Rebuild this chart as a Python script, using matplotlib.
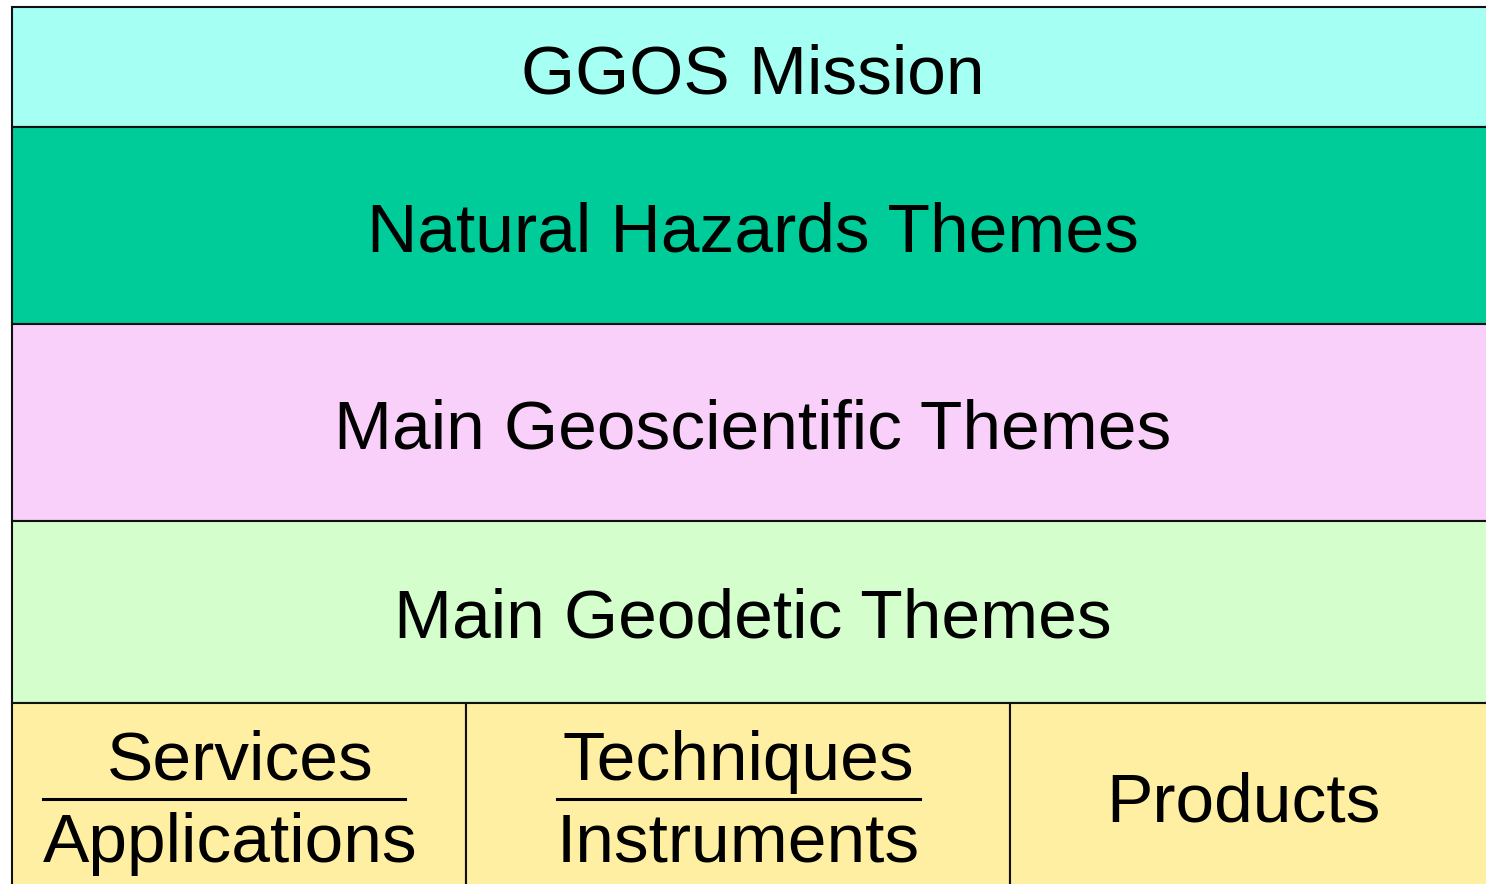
import matplotlib.pyplot as plt
from matplotlib.patches import Rectangle

# theme rows, top to bottom
row_labels = ['GGOS Mission', 'Natural Hazards Themes', 'Main Geoscientific Themes', 'Main Geodetic Themes']
row_colors = ['#A5FFF2', '#00CC99', '#F9D0F9', '#D4FFCC']
row_edges = [7, 127, 324, 521, 703]

# bottom row: three boxes
col_edges = [12, 466, 1010, 1494]
col_top = ['Services', 'Techniques', 'Products']
col_bottom = ['Applications', 'Instruments', None]
bottom_color = '#FFEFA2'

FONT = 'Liberation Sans'
FS = 50
X0, X1 = 12, 1494
CX = 753

fig = plt.figure(figsize=(14.86, 8.84), dpi=100)
ax = fig.add_axes([0, 0, 1, 1])
ax.set_xlim(0, 1486)
ax.set_ylim(884, 0)
ax.axis('off')

for i, (lab, col) in enumerate(zip(row_labels, row_colors)):
    y0, y1 = row_edges[i], row_edges[i + 1]
    ax.add_patch(Rectangle((X0, y0), X1 - X0, y1 - y0, facecolor=col,
                           edgecolor='#111111', linewidth=1.5))
    ax.text(CX, (y0 + y1) / 2 + 26, lab, ha='center', va='baseline',
            fontsize=FS, family=FONT)

yb = row_edges[-1]
for i in range(3):
    x0, x1 = col_edges[i], col_edges[i + 1]
    ax.add_patch(Rectangle((x0, yb), x1 - x0, 900 - yb, facecolor=bottom_color,
                           edgecolor='#111111', linewidth=1.5))

# fractions
ax.text(240, 780, col_top[0], ha='center', va='baseline', fontsize=FS, family=FONT)
ax.plot([43, 405], [799, 799], color='black', lw=2.2)
ax.text(43, 862, col_bottom[0], ha='left', va='baseline', fontsize=FS, family=FONT)

ax.text(738, 780, col_top[1], ha='center', va='baseline', fontsize=FS, family=FONT)
ax.plot([557, 920], [799, 799], color='black', lw=2.2)
ax.text(738, 862, col_bottom[1], ha='center', va='baseline', fontsize=FS, family=FONT)

ax.text(1243, 822, col_top[2], ha='center', va='baseline', fontsize=FS, family=FONT)

fig.savefig('out.png', dpi=100)
